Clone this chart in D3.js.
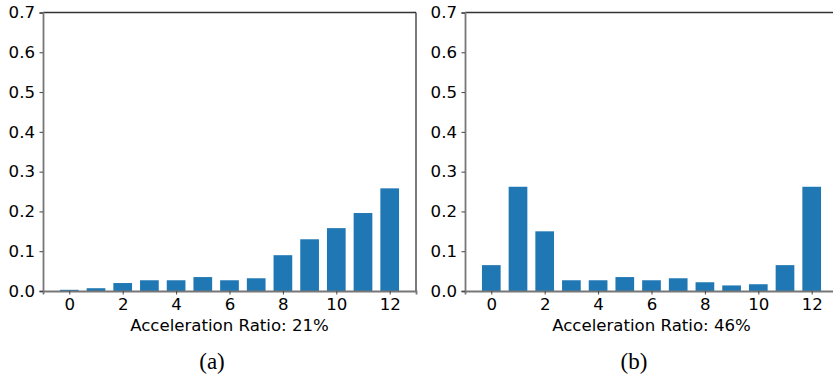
<!DOCTYPE html>
<html>
<head>
<meta charset="utf-8">
<script src="https://cdn.jsdelivr.net/npm/d3@7"></script>
<style>
  html, body { margin: 0; padding: 0; background: #fff; }
  svg { display: block; }
  text { font-family: "DejaVu Sans", sans-serif; fill: #000; }
  .cap { font-family: "Liberation Serif", "Times New Roman", serif; }
</style>
</head>
<body>
<svg id="chart" width="833" height="375"></svg>
<script>
// ---- data ----
const categories = [0, 1, 2, 3, 4, 5, 6, 7, 8, 9, 10, 11, 12];
const seriesA = [0.003, 0.007, 0.020, 0.027, 0.027, 0.035, 0.027, 0.032, 0.090, 0.130, 0.158, 0.196, 0.258];
const seriesB = [0.065, 0.262, 0.150, 0.027, 0.027, 0.035, 0.027, 0.032, 0.022, 0.014, 0.017, 0.065, 0.262];
const xTickValues = [0, 2, 4, 6, 8, 10, 12];
const yTickValues = [0.0, 0.1, 0.2, 0.3, 0.4, 0.5, 0.6, 0.7];
const xLabels = ["Acceleration Ratio: 21%", "Acceleration Ratio: 46%"];
const captions = ["(a)", "(b)"];

(function draw() {
  const svg = d3.select("#chart");
  const panels = [
    { values: seriesA, left: 43, xlabel: xLabels[0], caption: captions[0] },
    { values: seriesB, left: 465, xlabel: xLabels[1], caption: captions[1] }
  ];
  const plotW = 373, plotTop = 12.5, plotBottom = 291;
  const barWidth = 0.7;
  const fs = "16.6px";

  panels.forEach(p => {
    const x = d3.scaleLinear()
      .domain([-0.35 - 0.635, 12.35 + 0.635])
      .range([p.left, p.left + plotW]);
    const y = d3.scaleLinear().domain([0, 0.7]).range([plotBottom, plotTop]);
    const g = svg.append("g");

    g.selectAll("rect.bar").data(categories).enter().append("rect")
      .attr("class", "bar")
      .attr("x", d => x(d - barWidth / 2))
      .attr("width", d => x(d + barWidth / 2) - x(d - barWidth / 2))
      .attr("y", (d, i) => y(p.values[i]))
      .attr("height", (d, i) => y(0) - y(p.values[i]))
      .attr("fill", "#1f77b4");

    g.append("line").attr("x1", p.left).attr("x2", p.left + plotW)
      .attr("y1", plotTop).attr("y2", plotTop).attr("stroke", "#333").attr("stroke-width", 1.3);
    g.append("line").attr("x1", p.left + plotW).attr("x2", p.left + plotW)
      .attr("y1", plotTop).attr("y2", plotBottom).attr("stroke", "#333").attr("stroke-width", 1.3);

    const xAxis = d3.axisBottom(x).tickValues(xTickValues).tickSize(3.5).tickPadding(4)
      .tickFormat(d3.format("d"));
    const gx = g.append("g").attr("transform", `translate(0,${plotBottom})`).call(xAxis);
    gx.select(".domain").attr("stroke", "#777").attr("stroke-width", 1.8);
    gx.selectAll(".tick line").attr("stroke", "#444");
    gx.selectAll(".tick text").style("font-size", fs).style("font-family", "DejaVu Sans").attr("fill", "#000");

    const yAxis = d3.axisLeft(y).tickValues(yTickValues).tickSize(3.5).tickPadding(4.5)
      .tickFormat(d3.format(".1f"));
    const gy = g.append("g").attr("transform", `translate(${p.left},0)`).call(yAxis);
    gy.select(".domain").attr("stroke", "#777").attr("stroke-width", 1.8);
    gy.selectAll(".tick line").attr("stroke", "#444");
    gy.selectAll(".tick text").style("font-size", fs).style("font-family", "DejaVu Sans").attr("fill", "#000");

    g.append("text")
      .attr("x", p.left + plotW / 2).attr("y", 331)
      .attr("text-anchor", "middle").style("font-size", fs)
      .text(p.xlabel);

    g.append("text").attr("class", "cap")
      .attr("x", p.left + 169).attr("y", 369)
      .attr("text-anchor", "middle").style("font-size", "23px")
      .text(p.caption);
  });
})();
</script>
</body>
</html>
